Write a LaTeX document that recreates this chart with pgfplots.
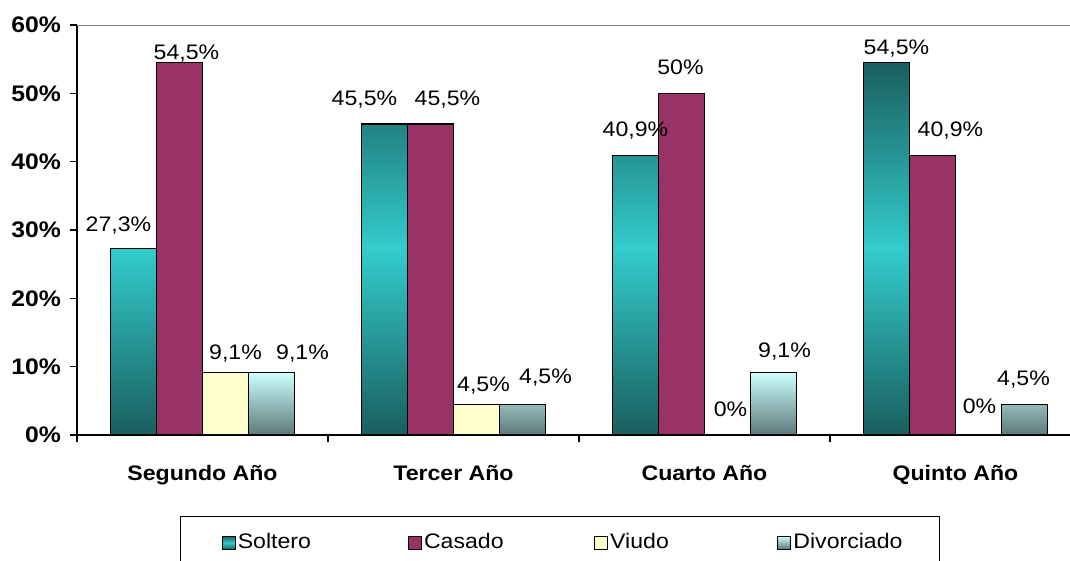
\documentclass[border=0pt]{standalone}
\usepackage{pgfplots}
\pgfplotsset{compat=1.18}
\usepackage{pgfplotstable}
\usepackage{fontspec}
\setmainfont{Liberation Sans}[FakeStretch=1.1]
\definecolor{casado}{HTML}{993366}
\definecolor{viudo}{HTML}{FFFFCC}
\definecolor{soltdark}{HTML}{1A5E5E}
\definecolor{soltmid}{HTML}{33CCCC}
\definecolor{divtop}{HTML}{CCFFFF}
\definecolor{divbot}{HTML}{5C7878}
\pgfplotsset{
  myleg/.style={legend image code/.code={\draw[##1, draw=black, line width=1.2pt] (0pt,-6.5pt) rectangle (13pt,6.5pt);}}
}

\pgfplotstableread{
x y dx dy
0 27.3 -15 17
1 45.5 -20 19
2 40.9 0 19
3 54.5 10 8
}\soltero
\pgfplotstableread{
x y dx dy
0 54.5 7 3
1 45.5 17 19
2 50 -1 19
3 40.9 18 19
}\casado
\pgfplotstableread{
x y dx dy
0 9.1 10 13
1 4.5 7 13
2 0 3 19
3 0 1 22
}\viudo
\pgfplotstableread{
x y dx dy
0 9.1 31 13
1 4.5 23 21
2 9.1 11 15
3 4.5 -1 19
}\divorciado

\begin{document}
\fontsize{21}{25}\selectfont
\begin{tikzpicture}
\begin{axis}[
  scale only axis, width=1004pt, height=410pt,
  xmin=-0.5, xmax=3.5, ymin=0, ymax=60,
  ybar=0pt, bar width=0.18327,
  axis x line*=bottom, axis y line*=left,
  x axis line style={black, line width=1.5pt},
  y axis line style={black, line width=1.5pt},
  tick align=outside,
  major tick length=7pt,
  ytick={0,10,...,60},
  yticklabels={0\%,10\%,20\%,30\%,40\%,50\%,60\%},
  yticklabel style={font=\fontsize{22.5}{26}\selectfont\bfseries, xshift=-2pt},
  ytick style={black, line width=1.2pt},
  xtick={0,1,2,3},
  xticklabels={Segundo Año,Tercer Año,Cuarto Año,Quinto Año},
  xticklabel style={font=\bfseries, yshift=-16pt},
  xtick style={draw=none},
  extra x ticks={-0.5,0.5,1.5,2.5,3.5},
  extra x tick labels={},
  extra x tick style={xtick style={draw=black, line width=1.2pt}},
  /pgf/number format/assume math mode=true,
  point meta=y,
  nodes near coords={\pgfmathprintnumber[use comma,fixed,precision=1]{\pgfplotspointmeta}\%},
  visualization depends on={\thisrow{dx} \as \dx},
  visualization depends on={\thisrow{dy} \as \dy},
  every node near coord/.append style={anchor=base, xshift=\dx pt, yshift=\dy pt, inner sep=0pt},
  legend columns=4,
  legend style={at={(rel axis cs:0.1026,-0.1976)}, anchor=north west,
    draw=black, line width=1.2pt, inner xsep=41pt, inner ysep=15pt},
  legend cell align=left,
]
\addplot[draw=black, line width=1.2pt, top color=soltdark, bottom color=soltdark, middle color=soltmid, myleg]
  table[x=x,y=y] {\soltero};
\addlegendentry{\makebox[168pt][l]{Soltero}}
\addplot[draw=black, line width=1.2pt, fill=casado, myleg]
  table[x=x,y=y] {\casado};
\addlegendentry{\makebox[168pt][l]{Casado}}
\addplot[draw=black, line width=1.2pt, fill=viudo, myleg]
  table[x=x,y=y] {\viudo};
\addlegendentry{\makebox[165pt][l]{Viudo}}
\addplot[draw=black, line width=1.2pt, top color=divtop, bottom color=divbot, myleg]
  table[x=x,y=y] {\divorciado};
\addlegendentry{Divorciado\hspace*{-6pt}}
\draw[gray, line width=1.5pt] (rel axis cs:0,1) -- (rel axis cs:1,1);
\end{axis}
\pgfresetboundingbox
\useasboundingbox (-77pt,-125pt) rectangle (993pt,435pt);
\end{tikzpicture}
\end{document}
